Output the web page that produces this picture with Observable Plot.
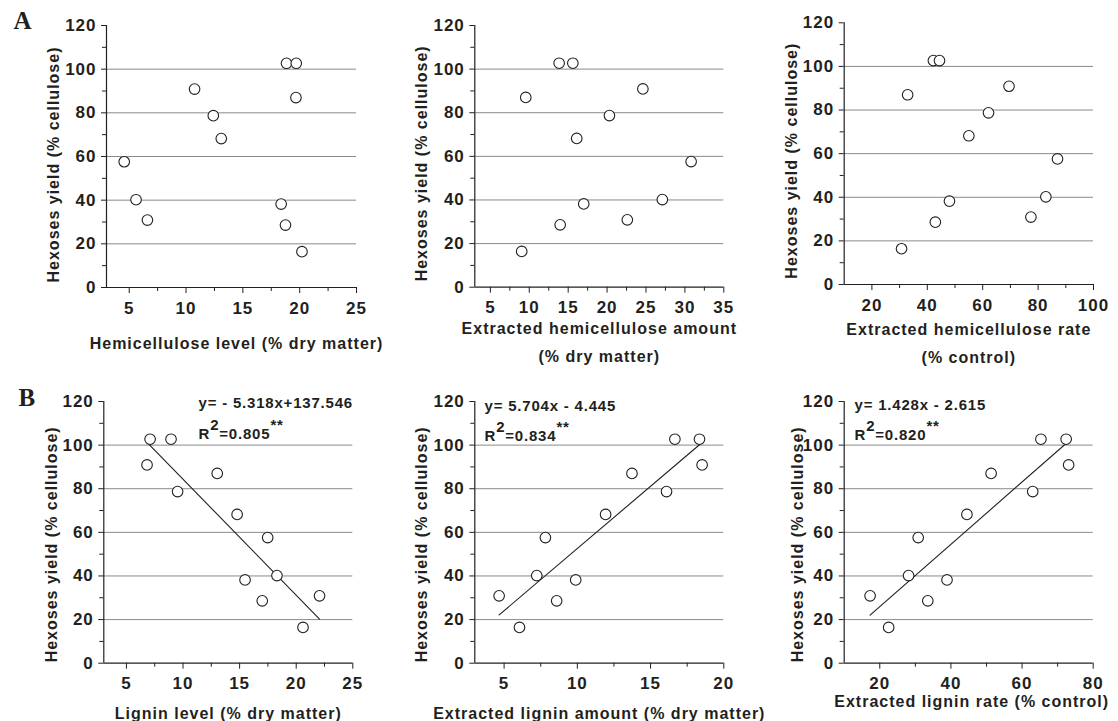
<!DOCTYPE html>
<html><head><meta charset="utf-8">
<script src="https://cdn.jsdelivr.net/npm/d3@7"></script>
<script src="https://cdn.jsdelivr.net/npm/@observablehq/plot@0.6"></script>
<style>
html,body{margin:0;padding:0;background:#fff;}
#fig{position:relative;width:1118px;height:721px;overflow:hidden;background:#fff;}
#fig svg{position:absolute;background:transparent;}
#fig svg text{letter-spacing:1px;}
#fig svg g.eq text, #fig svg g.r2 text{letter-spacing:0.8px;}
#fig svg g.letter text{letter-spacing:0;}
</style></head><body><div id="fig"></div>
<script>
// ---- data (12 samples) ----
const hexosesYield = [102.7, 102.7, 90.9, 87.0, 78.7, 68.2, 57.6, 40.2, 38.2, 30.9, 28.6, 16.4];
const hemicelluloseLevel = [18.84, 19.7, 10.75, 19.67, 12.4, 13.1, 4.56, 5.6, 18.37, 6.6, 18.75, 20.2];
const extractedHemicelluloseAmount = [13.84, 15.6, 24.6, 9.55, 20.3, 16.1, 30.8, 27.1, 17.0, 22.6, 13.97, 9.03];
const extractedHemicelluloseRate = [42.2, 44.4, 69.5, 32.9, 62.1, 55.0, 87.0, 82.8, 48.0, 77.4, 42.9, 30.7];
const ligninLevel = [7.09, 8.94, 6.82, 13.02, 9.52, 14.78, 17.48, 18.3, 15.48, 22.06, 17.0, 20.6];
const extractedLigninAmount = [16.66, 18.34, 18.52, 13.73, 16.09, 11.93, 7.82, 7.23, 9.89, 4.66, 8.59, 6.05];
const extractedLigninRate = [65.3, 72.4, 73.1, 51.3, 63.0, 44.5, 30.8, 28.1, 38.9, 17.28, 33.5, 22.5];

const yTicks = [0, 20, 40, 60, 80, 100, 120];
const yMinorTicks = [10, 30, 50, 70, 90, 110];
const yGrid = [20, 40, 60, 80, 100];
const yLabel = "Hexoses yield (% cellulose)";
const panelLetters = ["A", "B"];

const fitSlopes = [-5.318, 5.704, 1.428];
const fitIntercepts = [137.546, -4.445, -2.615];
const fitEquations = ["y= - 5.318x+137.546", "y= 5.704x - 4.445", "y= 1.428x - 2.615"];
const fitR2 = ["0.805", "0.834", "0.820"];

// ---- layout ----
const INK = "#231f20", GRID = "#8a8a8a";
const FONT = "Liberation Sans, Arial, Helvetica, sans-serif";

const panels = [
  {x: hemicelluloseLevel, domain: [3, 25], ticks: [5, 10, 15, 20, 25], minor: [7.5, 12.5, 17.5, 22.5],
   label: "Hemicellulose level (% dry matter)", left: 0, top: 0, width: 372, height: 372,
   ml: 106, mr: 16, mt: 25, mb: 85, lx: 5, ly: 53, yx: -53, yy: 8, letter: 0, letterDx: -84, letterDy: -14},
  {x: extractedHemicelluloseAmount, domain: [3, 35], ticks: [5, 10, 15, 20, 25, 30, 35], minor: [7.5, 12.5, 17.5, 22.5, 27.5, 32.5],
   label: "Extracted hemicellulose amount\n(% dry matter)", left: 372, top: 0, width: 372, height: 372,
   ml: 102.3, mr: 20.7, mt: 25, mb: 85.3, lx: 0, ly: 52, yx: -53, yy: 7},
  {x: extractedHemicelluloseRate, domain: [10, 100], ticks: [20, 40, 60, 80, 100], minor: [30, 50, 70, 90],
   label: "Extracted hemicellulose rate\n(% control)", left: 744, top: 0, width: 374, height: 372,
   ml: 99.7, mr: 25, mt: 22.3, mb: 88, lx: 0, ly: 55.7, yx: -52, yy: 7},
  {x: ligninLevel, domain: [3, 25], ticks: [5, 10, 15, 20, 25], minor: [7.5, 12.5, 17.5, 22.5],
   label: "Lignin level (% dry matter)", left: 0, top: 372, width: 372, height: 349,
   ml: 103.3, mr: 19.7, mt: 29, mb: 58.3, lx: 0, ly: 47, yx: -52, yy: 12, letter: 1, letterDx: -77, letterDy: -13,
   fit: 0, ex: 94.7, ey1: -4.5, ey2: 26.8},
  {x: extractedLigninAmount, domain: [3, 20], ticks: [5, 10, 15, 20], minor: [7.5, 12.5, 17.5],
   label: "Extracted lignin amount (% dry matter)", left: 372, top: 372, width: 372, height: 349,
   ml: 102.3, mr: 20.7, mt: 29, mb: 58.3, lx: 0, ly: 47, yx: -53, yy: 12,
   fit: 1, ex: 9.7, ey1: -1.2, ey2: 29},
  {x: extractedLigninRate, domain: [10, 80], ticks: [20, 40, 60, 80], minor: [30, 50, 70],
   label: "Extracted lignin rate (% control)", left: 744, top: 372, width: 374, height: 349,
   ml: 99.7, mr: 25.3, mt: 29, mb: 58.3, lx: 3, ly: 35, yx: -46, yy: 12,
   fit: 2, ex: 10.3, ey1: -2.3, ey2: 27.7}
];

const fig = document.getElementById("fig");
const txt = {fontSize: 16, fontWeight: "bold", fill: INK};

for (const p of panels) {
  const pts = hexosesYield.map((y, i) => ({x: p.x[i], y}));
  const marks = [
    Plot.gridY(yGrid, {stroke: GRID, strokeOpacity: 1, strokeWidth: 1}),
    Plot.axisY(yTicks, {tickSize: 5, tickPadding: 5, fontSize: 17, fontWeight: "bold", color: INK, label: null}),
    Plot.axisY(yMinorTicks, {tickSize: 4, stroke: INK, fill: "none", label: null}),
    Plot.axisX(p.ticks, {tickSize: 6, tickPadding: 8, fontSize: 17, fontWeight: "bold", color: INK, label: null}),
    Plot.axisX(p.minor, {tickSize: 4, stroke: INK, fill: "none", label: null}),
    Plot.ruleX([p.domain[0]], {stroke: INK, strokeWidth: 1.2}),
    Plot.ruleY([0], {stroke: INK, strokeWidth: 1.2}),
    Plot.text([p.label], {text: d => d, frameAnchor: "bottom", textAnchor: "middle", dx: p.lx, dy: p.ly, lineAnchor: "middle", lineHeight: 1.75, ...txt}),
    Plot.text([yLabel], {text: d => d, frameAnchor: "left", textAnchor: "middle", rotate: -90, dx: p.yx, dy: p.yy, lineAnchor: "middle", ...txt})
  ];
  if (p.fit !== undefined) {
    const k = p.fit;
    const ext = d3.extent(p.x);
    const line = ext.map(x => ({x, y: fitSlopes[k] * x + fitIntercepts[k]}));
    marks.push(Plot.line(line, {x: "x", y: "y", stroke: INK, strokeWidth: 1.1}));
    marks.push(Plot.text([fitEquations[k]], {text: d => d, frameAnchor: "top-left", textAnchor: "start", lineAnchor: "top",
      dx: p.ex, dy: p.ey1, fontSize: 15, fontWeight: "bold", fill: INK, className: "eq"}));
    marks.push(Plot.text([fitR2[k]], {text: d => d, frameAnchor: "top-left", textAnchor: "start", lineAnchor: "top",
      dx: p.ex, dy: p.ey2, fontSize: 15, fontWeight: "bold", fill: INK, className: "r2"}));
  }
  marks.push(Plot.dot(pts, {x: "x", y: "y", r: 5.3, fill: "white", stroke: INK, strokeWidth: 1.1}));
  if (p.letter !== undefined) {
    marks.push(Plot.text([panelLetters[p.letter]], {text: d => d, frameAnchor: "top-left", textAnchor: "middle", lineAnchor: "top",
      dx: p.letterDx, dy: p.letterDy, fontSize: 25, fontWeight: "bold", fontFamily: "Liberation Serif, Times New Roman, serif", fill: INK, className: "letter"}));
  }
  const svg = Plot.plot({
    width: p.width, height: p.height,
    marginLeft: p.ml, marginRight: p.mr, marginTop: p.mt, marginBottom: p.mb,
    x: {domain: p.domain, axis: null},
    y: {domain: [0, 120], axis: null},
    style: {fontFamily: FONT, color: INK, background: "transparent", overflow: "visible"},
    marks
  });
  svg.style.left = p.left + "px";
  svg.style.top = p.top + "px";
  svg.style.maxWidth = "none";
  fig.appendChild(svg);
  // R² with raised "2" and "**"
  d3.select(svg).selectAll("g.r2 text").each(function () {
    const v = this.textContent;
    const t = d3.select(this);
    t.text(null);
    t.append("tspan").text("R");
    t.append("tspan").attr("dy", -9).text("2");
    t.append("tspan").attr("dy", 9).text("=" + v);
    t.append("tspan").attr("dy", -9).text("**");
  });
}
</script></body></html>
